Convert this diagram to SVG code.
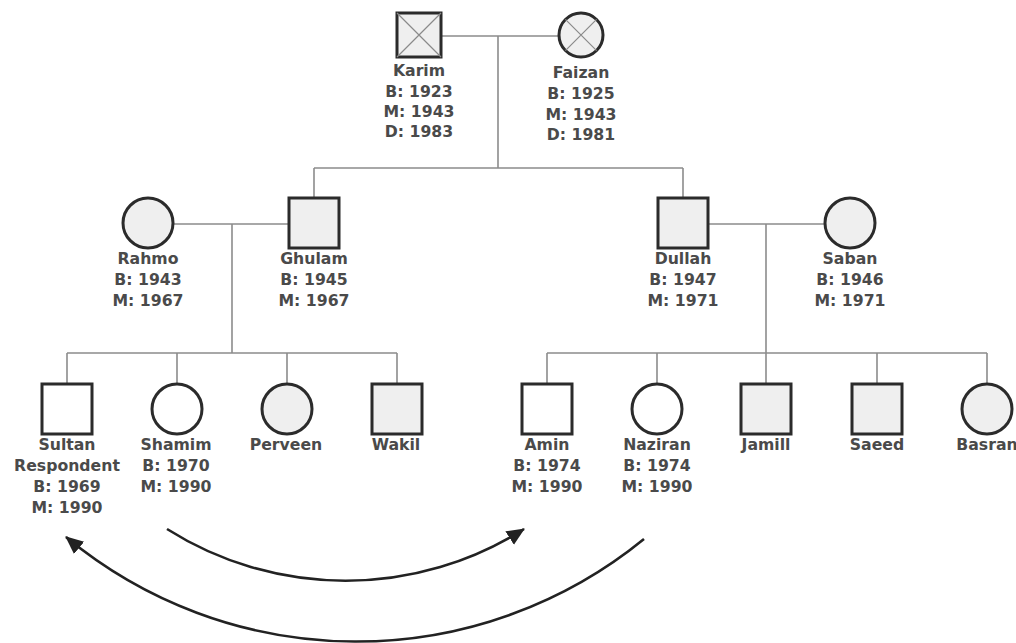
<svg xmlns="http://www.w3.org/2000/svg" width="1016" height="643" viewBox="0 0 1016 643">
<style>
.n{fill:#efefef;stroke:#2b2b2b;stroke-width:3}
.w{fill:#ffffff;stroke:#2b2b2b;stroke-width:3}
.x{stroke:#8a8a8a;stroke-width:1.2;fill:none}
.c{stroke:#8c8c8c;stroke-width:1.6;fill:none}
.a{stroke:#222;stroke-width:2.6;fill:none;marker-end:url(#ah)}
text{font-family:"DejaVu Sans","Liberation Sans",sans-serif;font-weight:bold;font-size:15.7px;fill:#4a4a4a;text-anchor:middle}
</style>
<defs>
<marker id="ah" markerUnits="userSpaceOnUse" markerWidth="20" markerHeight="18" refX="17" refY="8" orient="auto">
<path d="M0,0 L18,8 L0,16 Z" fill="#222"/>
</marker>
</defs>
<rect width="1016" height="643" fill="#ffffff"/>
<g id="connectors">
<path class="c" d="M441,36 H559 M498,36 V168 M314,168 H683 M314,168 V198 M683,168 V198"/>
<path class="c" d="M173,224 H289 M232,224 V353 M67,353 H397 M67,353 V384 M177,353 V384 M287,353 V384 M397,353 V384"/>
<path class="c" d="M708,224 H825 M766,224 V384 M547,353 H987 M547,353 V384 M657,353 V384 M877,353 V384 M987,353 V384"/>
<path class="a" d="M167,529 A334,334 0 0 0 524,529"/>
<path class="a" d="M644,539 A455,455 0 0 1 66,537"/>
</g>
<g id="karim">
<rect class="n" x="397" y="13" width="44" height="44"/>
<path class="x" d="M397,13 L441,57 M441,13 L397,57"/>
<text x="419" y="76">Karim</text><text x="419" y="97">B: 1923</text><text x="419" y="117">M: 1943</text><text x="419" y="137">D: 1983</text>
</g>
<g id="faizan">
<circle class="n" cx="581" cy="35" r="22"/>
<path class="x" d="M565.4,19.4 L596.6,50.6 M596.6,19.4 L565.4,50.6"/>
<text x="581" y="78">Faizan</text><text x="581" y="99">B: 1925</text><text x="581" y="120">M: 1943</text><text x="581" y="140">D: 1981</text>
</g>
<g id="rahmo">
<circle class="n" cx="148" cy="223" r="25"/>
<text x="148" y="264">Rahmo</text><text x="148" y="285">B: 1943</text><text x="148" y="306">M: 1967</text>
</g>
<g id="ghulam">
<rect class="n" x="289" y="198" width="50" height="50"/>
<text x="314" y="264">Ghulam</text><text x="314" y="285">B: 1945</text><text x="314" y="306">M: 1967</text>
</g>
<g id="dullah">
<rect class="n" x="658" y="198" width="50" height="50"/>
<text x="683" y="264">Dullah</text><text x="683" y="285">B: 1947</text><text x="683" y="306">M: 1971</text>
</g>
<g id="saban">
<circle class="n" cx="850" cy="223" r="25"/>
<text x="850" y="264">Saban</text><text x="850" y="285">B: 1946</text><text x="850" y="306">M: 1971</text>
</g>
<g id="sultan">
<rect class="w" x="42" y="384" width="50" height="50"/>
<text x="67" y="450">Sultan</text><text x="67" y="471">Respondent</text><text x="67" y="492">B: 1969</text><text x="67" y="513">M: 1990</text>
</g>
<g id="shamim">
<circle class="w" cx="177" cy="409" r="25"/>
<text x="176" y="450">Shamim</text><text x="176" y="471">B: 1970</text><text x="176" y="492">M: 1990</text>
</g>
<g id="perveen">
<circle class="n" cx="287" cy="409" r="25"/>
<text x="286" y="450">Perveen</text>
</g>
<g id="wakil">
<rect class="n" x="372" y="384" width="50" height="50"/>
<text x="396" y="450">Wakil</text>
</g>
<g id="amin">
<rect class="w" x="522" y="384" width="50" height="50"/>
<text x="547" y="450">Amin</text><text x="547" y="471">B: 1974</text><text x="547" y="492">M: 1990</text>
</g>
<g id="naziran">
<circle class="w" cx="657" cy="409" r="25"/>
<text x="657" y="450">Naziran</text><text x="657" y="471">B: 1974</text><text x="657" y="492">M: 1990</text>
</g>
<g id="jamill">
<rect class="n" x="741" y="384" width="50" height="50"/>
<text x="766" y="450">Jamill</text>
</g>
<g id="saeed">
<rect class="n" x="852" y="384" width="50" height="50"/>
<text x="877" y="450">Saeed</text>
</g>
<g id="basran">
<circle class="n" cx="987" cy="409" r="25"/>
<text x="987" y="450">Basran</text>
</g>
</svg>
